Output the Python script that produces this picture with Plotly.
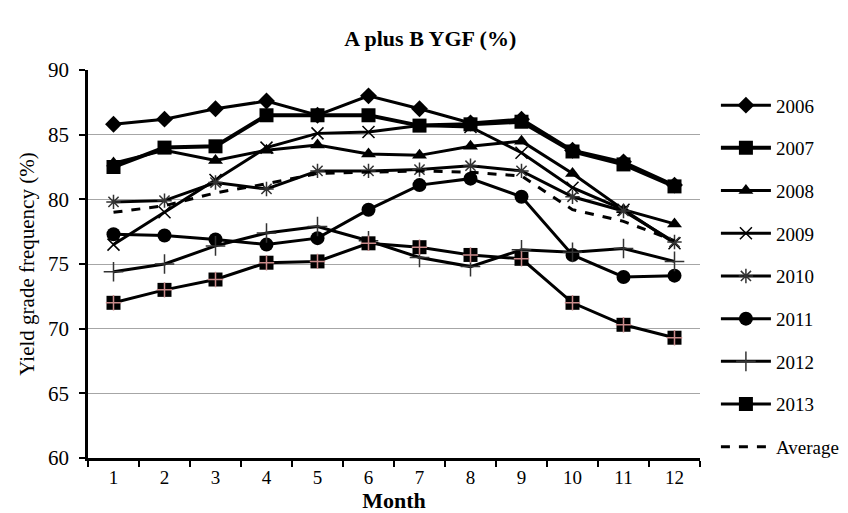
import plotly.graph_objects as go

months = [str(m) for m in range(1, 13)]
y2006 = [85.8, 86.2, 87.0, 87.6, 86.5, 88.0, 87.0, 85.9, 86.2, 83.8, 82.9, 81.1]
y2007 = [82.5, 84.0, 84.1, 86.5, 86.5, 86.5, 85.7, 85.8, 86.0, 83.7, 82.7, 81.0]
y2008 = [82.8, 83.8, 83.0, 83.8, 84.2, 83.5, 83.4, 84.1, 84.5, 82.0, 79.2, 78.1]
y2009 = [76.5, 79.0, 81.5, 84.0, 85.1, 85.2, 85.7, 85.6, 83.6, 80.9, 79.2, 76.6]
y2010 = [79.8, 79.9, 81.3, 80.8, 82.2, 82.2, 82.3, 82.6, 82.2, 80.2, 79.1, 76.7]
y2011 = [77.3, 77.2, 76.9, 76.5, 77.0, 79.2, 81.1, 81.6, 80.2, 75.7, 74.0, 74.1]
y2012 = [74.4, 75.0, 76.4, 77.4, 77.9, 76.8, 75.5, 74.8, 76.1, 75.9, 76.2, 75.2]
y2013 = [72.0, 73.0, 73.8, 75.1, 75.2, 76.6, 76.3, 75.7, 75.4, 72.0, 70.3, 69.3]
average = [79.0, 79.5, 80.5, 81.2, 82.0, 82.1, 82.2, 82.1, 81.8, 79.2, 78.3, 76.8]

FONT = "Liberation Serif, Times New Roman, serif"

series = [
    ("2006", y2006, dict(symbol="diamond", size=13, color="black"), 3),
    ("2007", y2007, dict(symbol="square", size=14, color="black"), 4),
    ("2008", y2008, dict(symbol="triangle-up", size=13, color="black"), 3),
    ("2009", y2009, dict(symbol="x-thin", size=12, color="black",
                         line=dict(color="black", width=1.5)), 3),
    ("2010", y2010, dict(symbol="asterisk", size=12, color="#333333",
                         line=dict(color="#333333", width=1.5)), 3),
    ("2011", y2011, dict(symbol="circle", size=14, color="black"), 3),
    ("2012", y2012, dict(symbol="cross-thin", size=14, color="#333333",
                         line=dict(color="#333333", width=1.5)), 3),
    ("2013", y2013, dict(symbol="square", size=14, color="black"), 3),
]

fig = go.Figure()
for name, ys, mk, lw in series:
    fig.add_trace(go.Scatter(
        x=months, y=ys, name=name, mode="lines+markers",
        line=dict(color="black", width=lw), marker=mk, legendgroup=name,
    ))
    if name == "2013":
        fig.add_trace(go.Scatter(
            x=months, y=ys, mode="markers", showlegend=False, hoverinfo="skip",
            marker=dict(symbol="cross-thin", size=11,
                        line=dict(color="#c98a8a", width=1.5)),
            legendgroup=name,
        ))
fig.add_trace(go.Scatter(
    x=months, y=average, name="Average", mode="lines",
    line=dict(color="black", width=3, dash="dash"), legendgroup="avg",
))

fig.update_layout(
    width=848, height=513,
    margin=dict(l=80, r=132, t=62, b=63),
    paper_bgcolor="white", plot_bgcolor="white",
    font=dict(family=FONT, size=20, color="black"),
    title=dict(text="<b>A plus B YGF (%)</b>", x=0.498, xanchor="center",
               y=0.94, yanchor="middle", font=dict(family=FONT, size=22)),
    legend=dict(x=1.026, xanchor="left", y=0.958, yanchor="top",
                tracegroupgap=15, font=dict(family=FONT, size=19),
                bgcolor="rgba(0,0,0,0)", itemwidth=50),
    showlegend=True,
)
fig.update_xaxes(
    type="category", tickson="boundaries", ticks="outside", ticklen=6,
    tickwidth=2, tickcolor="black", showline=True, linecolor="black",
    linewidth=2.5, showgrid=False, range=[-0.5, 11.5],
    title=dict(text="<b>Month</b>", font=dict(family=FONT, size=22), standoff=6),
    tickfont=dict(family=FONT, size=19),
)
fig.update_yaxes(
    range=[60, 90], dtick=5, ticks="outside", ticklen=6, tickwidth=2,
    tickcolor="black", showline=True, linecolor="black", linewidth=2.5,
    showgrid=True, gridcolor="#a6a6a6", gridwidth=1, zeroline=False,
    ticklabelstandoff=6,
    title=dict(text="Yield grade frequency (%)", font=dict(family=FONT, size=21),
               standoff=8),
    tickfont=dict(family=FONT, size=21),
)

fig.write_html("out.html")
